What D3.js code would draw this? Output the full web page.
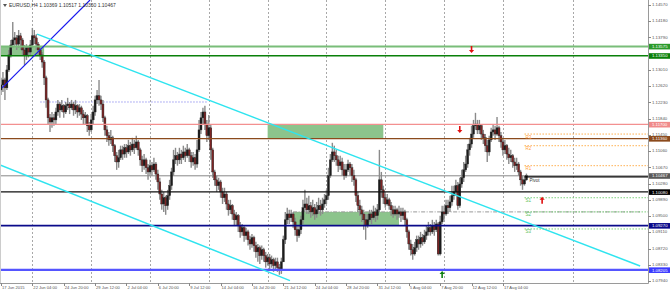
<!DOCTYPE html>
<html lang="en">
<head>
<meta charset="UTF-8" />
<title>EURUSD,H4</title>
<script src="https://d3js.org/d3.v7.min.js"></script>
<style>
  body { margin: 0; background: #fff; }
  svg { display: block; font-family: "Liberation Sans", Arial, sans-serif; }
</style>
</head>
<body>
<svg id="chart" width="670" height="292"></svg>
<script>
// ---- data (EURUSD H4, 17 Jun - 19 Aug 2015) ----
const open = [
  1.1253,1.1265,1.1277,1.1258,1.1301,1.1337,1.1361,1.1373,1.1378,1.1363,
  1.1383,1.1373,1.1349,1.1337,1.1354,1.1344,1.1361,1.1383,1.1378,1.1363,
  1.1349,1.1337,1.1320,1.1282,1.1229,1.1186,1.1176,1.1186,1.1181,1.1200,
  1.1219,1.1205,1.1215,1.1200,1.1215,1.1219,1.1210,1.1219,1.1205,1.1215,
  1.1200,1.1210,1.1195,1.1186,1.1191,1.1167,1.1157,1.1181,1.1200,1.1229,
  1.1239,1.1229,1.1219,1.1186,1.1157,1.1143,1.1133,1.1138,1.1119,1.1095,
  1.1080,1.1090,1.1109,1.1099,1.1114,1.1104,1.1119,1.1109,1.1123,1.1114,
  1.1128,1.1109,1.1085,1.1071,1.1085,1.1066,1.1056,1.1071,1.1061,1.1075,
  1.1051,1.1032,1.1003,1.0979,1.0994,1.0975,1.0999,1.1023,1.1056,1.1085,
  1.1095,1.1085,1.1099,1.1090,1.1104,1.1095,1.1109,1.1095,1.1080,1.1090,
  1.1075,1.1109,1.1157,1.1186,1.1200,1.1171,1.1143,1.1162,1.1109,1.1056,
  1.1037,1.1023,1.1032,1.1008,1.0994,1.1003,1.0979,1.0965,1.0975,1.0955,
  1.0941,1.0951,1.0927,1.0912,1.0922,1.0903,1.0912,1.0893,1.0883,1.0898,
  1.0879,1.0864,1.0874,1.0855,1.0869,1.0855,1.0840,1.0850,1.0835,1.0845,
  1.0831,1.0840,1.0826,1.0821,1.0840,1.0893,1.0941,1.0955,1.0946,1.0955,
  1.0936,1.0917,1.0903,1.0917,1.0941,1.0970,1.0979,1.0965,1.0975,1.0960,
  1.0970,1.0955,1.0965,1.0975,1.0965,1.0979,1.0989,1.0999,1.1047,1.1085,
  1.1104,1.1095,1.1085,1.1071,1.1080,1.1061,1.1047,1.1061,1.1075,1.1066,
  1.1047,1.1037,1.0999,1.0975,1.0965,1.0955,1.0941,1.0927,1.0941,1.0955,
  1.0946,1.0960,1.0951,1.0965,1.1037,1.1013,1.0994,1.0979,1.0989,1.0975,
  1.0965,1.0955,1.0965,1.0955,1.0960,1.0951,1.0960,1.0941,1.0912,1.0883,
  1.0869,1.0859,1.0874,1.0893,1.0883,1.0898,1.0888,1.0903,1.0912,1.0922,
  1.0912,1.0927,1.0917,1.0931,1.0859,1.0936,1.0960,1.0955,1.0975,1.0970,
  1.0984,1.0999,1.1008,1.1023,1.0975,1.1027,1.1042,1.1061,1.1075,1.1109,
  1.1123,1.1147,1.1167,1.1171,1.1157,1.1167,1.1147,1.1138,1.1119,1.1104,
  1.1133,1.1152,1.1157,1.1147,1.1162,1.1143,1.1128,1.1109,1.1119,1.1099,
  1.1090,1.1095,1.1080,1.1071,1.1075,1.1056,1.1037,1.1027,1.1037
];
const high = [
  1.1282,1.1296,1.1282,1.1313,1.1349,1.1373,1.1416,1.1392,1.1385,1.1397,
  1.1390,1.1378,1.1361,1.1363,1.1359,1.1373,1.1402,1.1397,1.1387,1.1368,
  1.1354,1.1344,1.1325,1.1287,1.1234,1.1195,1.1200,1.1195,1.1210,1.1229,
  1.1224,1.1229,1.1219,1.1224,1.1234,1.1224,1.1229,1.1224,1.1229,1.1219,
  1.1219,1.1215,1.1205,1.1200,1.1195,1.1176,1.1195,1.1215,1.1239,1.1253,
  1.1277,1.1239,1.1229,1.1191,1.1167,1.1152,1.1157,1.1143,1.1123,1.1104,
  1.1109,1.1119,1.1119,1.1123,1.1123,1.1133,1.1128,1.1138,1.1133,1.1143,
  1.1133,1.1114,1.1095,1.1099,1.1090,1.1075,1.1085,1.1080,1.1090,1.1080,
  1.1061,1.1042,1.1013,1.1008,1.0999,1.1013,1.1037,1.1066,1.1109,1.1114,
  1.1104,1.1114,1.1109,1.1119,1.1114,1.1123,1.1114,1.1104,1.1104,1.1099,
  1.1133,1.1181,1.1200,1.1210,1.1215,1.1181,1.1193,1.1171,1.1114,1.1061,
  1.1047,1.1042,1.1037,1.1018,1.1018,1.1008,1.0989,1.0989,1.0979,1.0965,
  1.0960,1.0955,1.0936,1.0931,1.0927,1.0922,1.0917,1.0903,1.0907,1.0903,
  1.0888,1.0883,1.0879,1.0879,1.0874,1.0864,1.0859,1.0859,1.0855,1.0850,
  1.0850,1.0850,1.0835,1.0850,1.0903,1.0960,1.0970,1.0965,1.0965,1.0960,
  1.0946,1.0927,1.0927,1.0951,1.0989,1.1013,1.0994,1.0999,1.0984,1.0989,
  1.0979,1.0984,1.0994,1.0989,1.0994,1.1003,1.1013,1.1066,1.1099,1.1126,
  1.1119,1.1109,1.1095,1.1095,1.1090,1.1075,1.1075,1.1085,1.1080,1.1075,
  1.1061,1.1042,1.1008,1.0989,1.0975,1.0965,1.0955,1.0955,1.0965,1.0965,
  1.0975,1.0970,1.0979,1.1109,1.1056,1.1023,1.1003,1.1003,1.0994,1.0984,
  1.0975,1.0975,1.0970,1.0975,1.0970,1.0970,1.0965,1.0946,1.0917,1.0893,
  1.0883,1.0888,1.0903,1.0903,1.0912,1.0907,1.0917,1.0927,1.0936,1.0931,
  1.0941,1.0936,1.0941,1.0936,1.0951,1.0975,1.0975,1.0989,1.0989,1.0999,
  1.1023,1.1023,1.1037,1.1032,1.1042,1.1061,1.1080,1.1095,1.1123,1.1138,
  1.1167,1.1181,1.1198,1.1181,1.1181,1.1171,1.1157,1.1147,1.1133,1.1143,
  1.1162,1.1171,1.1167,1.1188,1.1167,1.1152,1.1138,1.1133,1.1123,1.1114,
  1.1109,1.1099,1.1090,1.1090,1.1080,1.1061,1.1047,1.1047,1.1052
];
const low = [
  1.1241,1.1248,1.1229,1.1253,1.1296,1.1331,1.1354,1.1359,1.1349,1.1354,
  1.1349,1.1336,1.1313,1.1325,1.1331,1.1337,1.1354,1.1363,1.1349,1.1336,
  1.1325,1.1306,1.1265,1.1210,1.1169,1.1152,1.1162,1.1167,1.1171,1.1191,
  1.1186,1.1200,1.1186,1.1195,1.1205,1.1195,1.1205,1.1191,1.1195,1.1186,
  1.1191,1.1181,1.1171,1.1171,1.1152,1.1143,1.1152,1.1171,1.1191,1.1219,
  1.1215,1.1205,1.1176,1.1143,1.1128,1.1119,1.1123,1.1104,1.1080,1.1061,
  1.1066,1.1085,1.1085,1.1090,1.1090,1.1099,1.1095,1.1104,1.1099,1.1109,
  1.1095,1.1071,1.1056,1.1061,1.1051,1.1037,1.1047,1.1047,1.1056,1.1037,
  1.1013,1.0989,1.0965,1.0960,1.0953,1.0965,1.0989,1.1013,1.1047,1.1075,
  1.1071,1.1075,1.1075,1.1085,1.1080,1.1090,1.1080,1.1066,1.1071,1.1061,
  1.1066,1.1104,1.1147,1.1171,1.1157,1.1128,1.1133,1.1085,1.1042,1.1023,
  1.1008,1.1013,1.0994,1.0979,1.0984,1.0965,1.0951,1.0955,1.0941,1.0927,
  1.0927,1.0912,1.0898,1.0903,1.0888,1.0893,1.0879,1.0869,1.0874,1.0864,
  1.0850,1.0840,1.0835,1.0845,1.0840,1.0826,1.0831,1.0821,1.0826,1.0816,
  1.0821,1.0816,1.0809,1.0811,1.0840,1.0883,1.0931,1.0931,1.0936,1.0922,
  1.0903,1.0888,1.0898,1.0907,1.0931,1.0960,1.0955,1.0955,1.0946,1.0951,
  1.0941,1.0946,1.0955,1.0951,1.0955,1.0970,1.0979,1.0989,1.1042,1.1080,
  1.1080,1.1071,1.1056,1.1061,1.1047,1.1037,1.1042,1.1056,1.1047,1.1032,
  1.1023,1.0984,1.0960,1.0951,1.0936,1.0917,1.0893,1.0922,1.0936,1.0931,
  1.0941,1.0936,1.0941,1.0960,1.0994,1.0979,1.0970,1.0975,1.0965,1.0951,
  1.0946,1.0951,1.0941,1.0946,1.0936,1.0941,1.0927,1.0898,1.0869,1.0855,
  1.0845,1.0855,1.0864,1.0869,1.0874,1.0879,1.0883,1.0893,1.0903,1.0903,
  1.0907,1.0903,1.0912,1.0855,1.0855,1.0931,1.0941,1.0951,1.0955,1.0960,
  1.0975,1.0989,1.0999,1.0965,1.0970,1.1018,1.1032,1.1056,1.1066,1.1095,
  1.1114,1.1138,1.1157,1.1147,1.1147,1.1133,1.1123,1.1104,1.1080,1.1095,
  1.1128,1.1143,1.1133,1.1143,1.1128,1.1114,1.1095,1.1099,1.1085,1.1075,
  1.1080,1.1066,1.1056,1.1061,1.1047,1.1023,1.1013,1.1023,1.1035
];
const close = [
  1.1265,1.1277,1.1258,1.1301,1.1337,1.1361,1.1373,1.1378,1.1363,1.1383,
  1.1373,1.1349,1.1337,1.1354,1.1344,1.1361,1.1383,1.1378,1.1363,1.1349,
  1.1337,1.1320,1.1282,1.1229,1.1186,1.1176,1.1186,1.1181,1.1200,1.1219,
  1.1205,1.1215,1.1200,1.1215,1.1219,1.1210,1.1219,1.1205,1.1215,1.1200,
  1.1210,1.1195,1.1186,1.1191,1.1167,1.1157,1.1181,1.1200,1.1229,1.1239,
  1.1229,1.1219,1.1186,1.1157,1.1143,1.1133,1.1138,1.1119,1.1095,1.1080,
  1.1090,1.1109,1.1099,1.1114,1.1104,1.1119,1.1109,1.1123,1.1114,1.1128,
  1.1109,1.1085,1.1071,1.1085,1.1066,1.1056,1.1071,1.1061,1.1075,1.1051,
  1.1032,1.1003,1.0979,1.0994,1.0975,1.0999,1.1023,1.1056,1.1085,1.1095,
  1.1085,1.1099,1.1090,1.1104,1.1095,1.1109,1.1095,1.1080,1.1090,1.1075,
  1.1109,1.1157,1.1186,1.1200,1.1171,1.1143,1.1162,1.1109,1.1056,1.1037,
  1.1023,1.1032,1.1008,1.0994,1.1003,1.0979,1.0965,1.0975,1.0955,1.0941,
  1.0951,1.0927,1.0912,1.0922,1.0903,1.0912,1.0893,1.0883,1.0898,1.0879,
  1.0864,1.0874,1.0855,1.0869,1.0855,1.0840,1.0850,1.0835,1.0845,1.0831,
  1.0840,1.0826,1.0821,1.0840,1.0893,1.0941,1.0955,1.0946,1.0955,1.0936,
  1.0917,1.0903,1.0917,1.0941,1.0970,1.0979,1.0965,1.0975,1.0960,1.0970,
  1.0955,1.0965,1.0975,1.0965,1.0979,1.0989,1.0999,1.1047,1.1085,1.1104,
  1.1095,1.1085,1.1071,1.1080,1.1061,1.1047,1.1061,1.1075,1.1066,1.1047,
  1.1037,1.0999,1.0975,1.0965,1.0955,1.0941,1.0927,1.0941,1.0955,1.0946,
  1.0960,1.0951,1.0965,1.1037,1.1013,1.0994,1.0979,1.0989,1.0975,1.0965,
  1.0955,1.0965,1.0955,1.0960,1.0951,1.0960,1.0941,1.0912,1.0883,1.0869,
  1.0859,1.0874,1.0893,1.0883,1.0898,1.0888,1.0903,1.0912,1.0922,1.0912,
  1.0927,1.0917,1.0931,1.0859,1.0936,1.0960,1.0955,1.0975,1.0970,1.0984,
  1.0999,1.1008,1.1023,1.0975,1.1027,1.1042,1.1061,1.1075,1.1109,1.1123,
  1.1147,1.1167,1.1171,1.1157,1.1167,1.1147,1.1138,1.1119,1.1104,1.1133,
  1.1152,1.1157,1.1147,1.1162,1.1143,1.1128,1.1109,1.1119,1.1099,1.1090,
  1.1095,1.1080,1.1071,1.1075,1.1056,1.1037,1.1027,1.1037,1.1047
];

// time axis labels, one every 16 bars
const timeLabels = ["17 Jun 2015","22 Jun 04:00","24 Jun 20:00","29 Jun 12:00","2 Jul 04:00",
  "6 Jul 20:00","9 Jul 12:00","14 Jul 04:00","16 Jul 20:00","21 Jul 12:00","24 Jul 04:00",
  "28 Jul 20:00","31 Jul 12:00","5 Aug 04:00","7 Aug 20:00","12 Aug 12:00","17 Aug 04:00"];
const gridBars = [16, 46, 76, 106, 136, 166, 196, 226, 256, 292];

// price scale ticks
const priceTicks = [1.14570,1.14180,1.13790,1.13010,1.12620,1.12230,1.11840,1.11450,
  1.11060,1.10670,1.10280,1.09890,1.09500,1.09110,1.08720,1.08330,1.07940];

// horizontal line objects (price)
const hLevels = [1.13575, 1.13350, 1.11700, 1.11360, 1.10080, 1.09270, 1.08205];
const bid = 1.10467;

// trend lines [bar, price] pairs
const trendBlue = [[0.5, 1.1258], [45.4, 1.1469]];
const channelTop = [[18.4, 1.1387], [326, 1.0830]];
const channelBottom = [[-0.5, 1.1073], [147.4, 1.0795]];

// supply / demand zones [fromBar, toBar, priceA, priceB]
const zones = [[0, 22, 1.13575, 1.13350], [136, 195, 1.11700, 1.11360], [149, 203, 1.09600, 1.09270]];
const dottedLevel = [20, 105, 1.1224];
const dashDotLevel = [149, 326, 1.0960];

// daily pivot levels
const pivotStart = 267;
const pivot = 1.1044;
const pivotNames = ["R3", "R2", "R1", "S1", "S2", "S3"];
const pivotLevels = [1.1147, 1.1119, 1.1071, 1.0994, 1.0960, 1.0919];

// signal arrows [bar, price]
const arrowsDown = [[240, 1.1349], [234, 1.1157]];
const arrowsUpRed = [[276, 1.0989]];
const arrowsUpGreen = [[225, 1.0811]];

// ---- drawing ----
const svg = d3.select("#chart");
const plotRight = 648, plotBottom = 283;
const x = d3.scaleLinear().domain([0, 330]).range([1, plotRight]);
const y = d3.scaleLinear().domain([1.07892, 1.14690]).range([plotBottom, 0]);

svg.append("defs").append("clipPath").attr("id", "clip")
  .append("rect").attr("x", 0).attr("y", 0).attr("width", plotRight).attr("height", plotBottom);

const plot = svg.append("g").attr("clip-path", "url(#clip)");

// grid
plot.selectAll("line.grid").data(gridBars).join("line")
  .attr("x1", d => Math.round(x(d)) + 0.5).attr("x2", d => Math.round(x(d)) + 0.5)
  .attr("y1", 0).attr("y2", plotBottom)
  .attr("stroke", "#a8a8a8").attr("stroke-dasharray", "2,2").attr("stroke-width", 1);

// zones
plot.selectAll("rect.zone").data(zones).join("rect")
  .attr("x", d => x(d[0])).attr("width", d => x(d[1]) - x(d[0]))
  .attr("y", d => y(d[2])).attr("height", d => y(d[3]) - y(d[2]))
  .attr("fill", "#8cc48c");

// level lines
const levelStyle = [
  { c: "#79bd79", w: 2 }, { c: "#0a800a", w: 1.5 }, { c: "#f39090", w: 1.3 },
  { c: "#8b4a1c", w: 1.3 }, { c: "#111", w: 1.3 }, { c: "#0a0a8a", w: 1.6 }, { c: "#5555ff", w: 2.2 }
];
plot.append("line").attr("x1", 0).attr("x2", plotRight)
  .attr("y1", y(bid)).attr("y2", y(bid)).attr("stroke", "#888").attr("stroke-width", 1);

plot.append("line")
  .attr("x1", x(dottedLevel[0])).attr("x2", x(dottedLevel[1]))
  .attr("y1", y(dottedLevel[2])).attr("y2", y(dottedLevel[2]))
  .attr("stroke", "#9a9af0").attr("stroke-dasharray", "1.5,1.5");
plot.append("line")
  .attr("x1", x(dashDotLevel[0])).attr("x2", x(dashDotLevel[1]))
  .attr("y1", y(dashDotLevel[2])).attr("y2", y(dashDotLevel[2]))
  .attr("stroke", "#999").attr("stroke-dasharray", "4,1.5,1,1.5");

// candles
const bars = d3.range(close.length);
plot.selectAll("line.wick").data(bars).join("line")
  .attr("x1", i => x(i)).attr("x2", i => x(i))
  .attr("y1", i => y(high[i])).attr("y2", i => y(low[i]))
  .attr("stroke", "#8a8a8a").attr("stroke-width", 1.4);
plot.selectAll("rect.body").data(bars).join("rect")
  .attr("x", i => x(i) - 1).attr("width", 2)
  .attr("y", i => y(Math.max(open[i], close[i])))
  .attr("height", i => Math.max(0.8, Math.abs(y(open[i]) - y(close[i]))))
  .attr("fill", i => close[i] >= open[i] ? "#1c1c1c" : "#7d2424")
  .attr("stroke", "#222").attr("stroke-width", 0.4);

plot.selectAll("line.level").data(hLevels).join("line")
  .attr("x1", 0).attr("x2", plotRight)
  .attr("y1", d => y(d)).attr("y2", d => y(d))
  .attr("stroke", (d, i) => levelStyle[i].c).attr("stroke-width", (d, i) => levelStyle[i].w);

// trend lines
const lineOf = p => d3.line().x(d => x(d[0])).y(d => y(d[1]))(p);
plot.append("path").attr("d", lineOf(trendBlue)).attr("stroke", "#1a1aee").attr("stroke-width", 1.2).attr("fill", "none");
plot.append("path").attr("d", lineOf(channelTop)).attr("stroke", "#2fe4ef").attr("stroke-width", 1.5).attr("fill", "none");
plot.append("path").attr("d", lineOf(channelBottom)).attr("stroke", "#2fe4ef").attr("stroke-width", 1.5).attr("fill", "none");

// pivots
plot.append("line").attr("x1", x(pivotStart)).attr("x2", plotRight)
  .attr("y1", y(pivot)).attr("y2", y(pivot)).attr("stroke", "#000").attr("stroke-width", 1.3);
plot.selectAll("line.pv").data(pivotLevels).join("line")
  .attr("x1", x(pivotStart)).attr("x2", plotRight)
  .attr("y1", d => y(d)).attr("y2", d => y(d))
  .attr("stroke", (d, i) => i < 3 ? "#ffb050" : "#7ad07a")
  .attr("stroke-dasharray", "1.5,1.5");
plot.selectAll("text.pv").data(pivotLevels).join("text")
  .attr("x", x(pivotStart) + 1).attr("y", d => y(d) + 4.5)
  .attr("font-size", 4.5).attr("fill", (d, i) => i < 3 ? "#ffa040" : "#5cc05c")
  .text((d, i) => pivotNames[i]);
plot.append("text").attr("x", x(pivotStart) + 5).attr("y", y(pivot) + 5)
  .attr("font-size", 4.5).attr("fill", "#333").text("Pivot");

// arrows
function arrow(sel, pts, color, down) {
  sel.selectAll(null).data(pts).join("path")
    .attr("transform", d => `translate(${x(d[0])},${y(d[1])})`)
    .attr("d", down ? "M-0.8,-4H0.8V0H2.6L0,3L-2.6,0H-0.8Z" : "M-0.8,4H0.8V0H2.6L0,-3L-2.6,0H-0.8Z")
    .attr("fill", color);
}
arrow(plot, arrowsDown, "#e01010", true);
arrow(plot, arrowsUpRed, "#e01010", false);
arrow(plot, arrowsUpGreen, "#108010", false);

// frame
svg.append("line").attr("x1", plotRight + 0.5).attr("x2", plotRight + 0.5).attr("y1", 0).attr("y2", plotBottom + 0.5)
  .attr("stroke", "#9a9a9a");
svg.append("line").attr("x1", 0).attr("x2", plotRight + 0.5).attr("y1", plotBottom + 0.5).attr("y2", plotBottom + 0.5)
  .attr("stroke", "#9a9a9a");
svg.append("line").attr("x1", 0.5).attr("x2", 0.5).attr("y1", 0).attr("y2", plotBottom).attr("stroke", "#ccc");

// price axis
const ax = svg.append("g");
ax.selectAll("line").data(priceTicks).join("line")
  .attr("x1", plotRight).attr("x2", plotRight + 3)
  .attr("y1", d => Math.round(y(d)) + 0.5).attr("y2", d => Math.round(y(d)) + 0.5).attr("stroke", "#888");
ax.selectAll("text").data(priceTicks).join("text")
  .attr("x", plotRight + 4).attr("y", d => y(d) + 1.2)
  .attr("font-size", 4.3).attr("fill", "#555").text(d => d.toFixed(5));

// coloured price labels
const tagColors = ["#2a9a2a", "#0a800a", "#f08a8a", "#8b4a1c", "#000", "#0a0a8a", "#3a3aff"];
const tags = hLevels.map((p, i) => ({ p, c: tagColors[i] })).concat([{ p: bid, c: "#5a5a5a" }]);
const tg = svg.append("g").selectAll("g").data(tags).join("g")
  .attr("transform", d => `translate(${plotRight + 1},${y(d.p)})`);
tg.append("rect").attr("x", 0).attr("y", -2.6).attr("width", 21).attr("height", 5.6).attr("fill", d => d.c);
tg.append("text").attr("x", 3).attr("y", 1.6).attr("font-size", 4.3).attr("fill", "#fff")
  .text(d => d.p.toFixed(5));

// time axis
const tx = svg.append("g");
tx.selectAll("line").data(timeLabels).join("line")
  .attr("x1", (d, i) => Math.round(x(i * 16)) + 0.5).attr("x2", (d, i) => Math.round(x(i * 16)) + 0.5)
  .attr("y1", plotBottom).attr("y2", plotBottom + 3).attr("stroke", "#888");
tx.selectAll("text").data(timeLabels).join("text")
  .attr("x", (d, i) => x(i * 16) + 1).attr("y", 288.5)
  .attr("font-size", 4.1).attr("fill", "#555").text(d => d);

// header
svg.append("path").attr("d", "M3,4H7L5,7Z").attr("fill", "#555");
svg.append("text").attr("x", 9).attr("y", 7).attr("font-size", 5).attr("fill", "#333")
  .text("EURUSD,H4  1.10369 1.10517 1.10350 1.10467");
</script>
</body>
</html>
